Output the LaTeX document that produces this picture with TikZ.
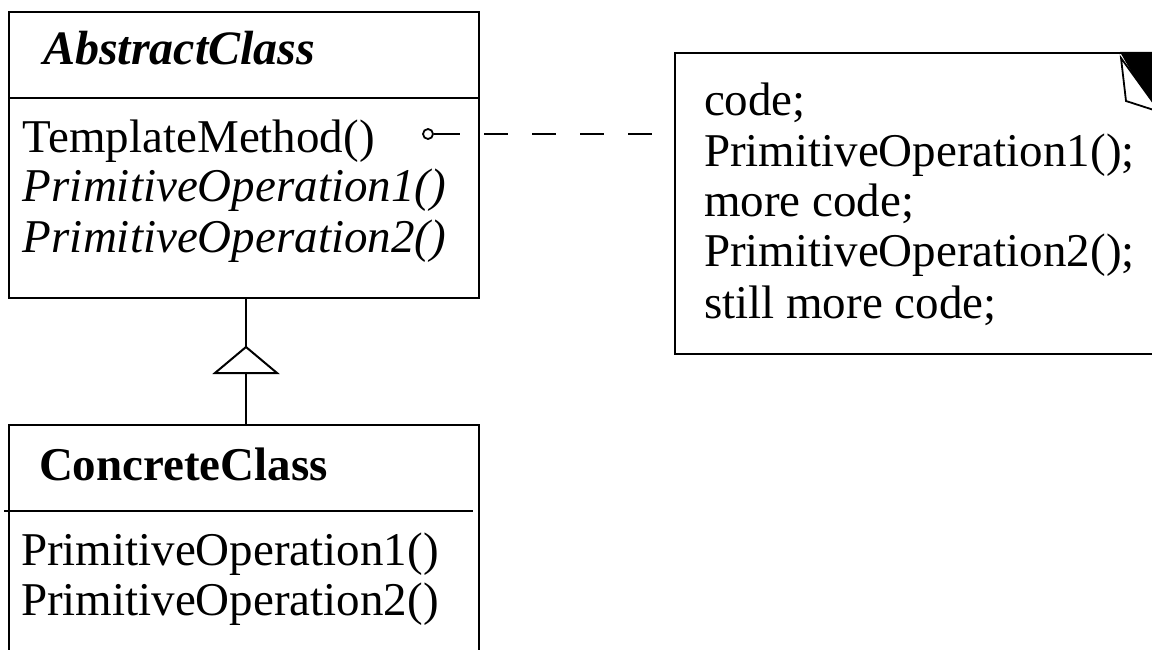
\documentclass[tikz,border=0pt]{standalone}
\usepackage{fontspec}
\setmainfont{Liberation Serif}
\begin{document}
\begin{tikzpicture}[x=1pt,y=-1pt,line width=2pt,
  box/.style={draw,line width=2pt,anchor=north west,inner sep=0pt},
  txt/.style={anchor=base west,inner sep=0pt,font=\fontsize{47}{50}\selectfont},
  dashline/.style={line width=2pt,dash pattern=on 24pt off 24pt}]
\clip (0,0) rectangle (1152,650);
\fill[white] (0,0) rectangle (1152,650);
% AbstractClass
\node[box,minimum width=470pt,minimum height=286pt] (abs) at (8,11) {};
\draw (abs.west |- 0,98) coordinate (absdivL) -- (abs.east |- 0,98) coordinate (absdivR);
\node[txt,font=\fontsize{48}{50}\selectfont\bfseries\itshape] (absname) at (42,65) {AbstractClass};
\node[txt] (tmpl) at (22,153) {TemplateMethod()};
\node[txt,font=\fontsize{47}{50}\selectfont\itshape] (po1a) at (22,202) {PrimitiveOperation1()};
\node[txt,font=\fontsize{47}{50}\selectfont\itshape] (po2a) at (22,252) {PrimitiveOperation2()};
% ConcreteClass
\node[box,minimum width=470pt,minimum height=300pt] (conc) at (8,424) {};
\draw (4,511) coordinate (condivL) -- (473,511) coordinate (condivR);
\node[txt,font=\fontsize{47}{50}\selectfont\bfseries] (concname) at (38,480) {ConcreteClass};
\node[txt] (po1c) at (20,565) {PrimitiveOperation1()};
\node[txt] (po2c) at (20,615) {PrimitiveOperation2()};
% Note
\node[box,minimum width=600pt,minimum height=301pt] (note) at (674,52) {};
\fill[black] (1120,52) -- (1165,52) -- (1165,130) -- cycle;
\draw[fill=white,line width=1.8pt,line join=miter] (1121,58) -- (1126,101) -- (1160,112) -- cycle;
\node[txt] (n1) at (703,116) {code;};
\node[txt] (n2) at (703,167) {PrimitiveOperation1();};
\node[txt] (n3) at (703,216) {more code;};
\node[txt] (n4) at (703,266) {PrimitiveOperation2();};
\node[txt] (n5) at (703,318) {still more code;};
% Template method connector
\node[circle,draw,line width=1.8pt,minimum size=10pt,inner sep=0pt] (tmc) at (428,134) {};
\coordinate (tmend) at (460,134);
\draw (tmc.east) -- (tmend);
\coordinate (dstart) at (484,134);
\coordinate (dend) at (653,134);
\draw[dashline] (dstart) -- (dend);
% Inheritance
\coordinate (apex) at (246,347);
\coordinate (tbase) at (246,373);
\draw (apex |- abs.south) -- (apex);
\draw[line join=miter] (apex) -- (215,373) -- (277,373) -- cycle;
\draw (tbase) -- (tbase |- conc.north);
\end{tikzpicture}
\end{document}
